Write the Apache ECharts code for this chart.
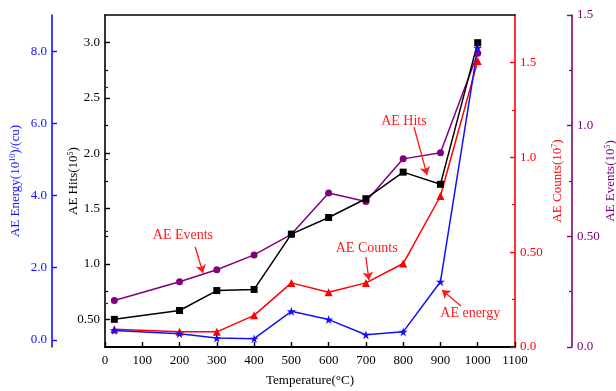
<!DOCTYPE html>
<html>
<head>
<meta charset="utf-8">
<script src="https://cdn.jsdelivr.net/npm/echarts@6/dist/echarts.min.js"></script>
<style>
  html, body { margin: 0; padding: 0; background: #ffffff; }
  #chart { width: 616px; height: 391px; }
</style>
</head>
<body>
<div id="chart"></div>
<script>
// Acoustic emission parameters versus heating temperature
const temperature = [25, 200, 300, 400, 500, 600, 700, 800, 900, 1000];
const aeHits   = [0.50, 0.58, 0.76, 0.77, 1.27, 1.42, 1.59, 1.83, 1.72, 3.00];   // 10^5
const aeEnergy = [0.26, 0.17, 0.05, 0.03, 0.79, 0.56, 0.14, 0.22, 1.61, 8.09];   // 10^10 cu
const aeCounts = [0.093, 0.080, 0.080, 0.167, 0.338, 0.289, 0.338, 0.440, 0.796, 1.507]; // 10^7
const aeEvents = [0.21, 0.295, 0.349, 0.416, 0.509, 0.696, 0.657, 0.850, 0.878, 1.327];  // 10^5

// Tick values for each vertical scale
const hitsMajor   = [0.5, 1.0, 1.5, 2.0, 2.5, 3.0];
const hitsMinor   = [0.75, 1.25, 1.75, 2.25, 2.75];
const energyMajor = [0, 2, 4, 6, 8];
const energyMinor = [1, 3, 5, 7];
const countsMajor = [0, 0.5, 1.0, 1.5];
const countsMinor = [0.25, 0.75, 1.25];
const eventsMajor = [0, 0.5, 1.0, 1.5];
const eventsMinor = [0.25, 0.75, 1.25];

// Callout notes, placed in (temperature, hits) coordinates
const noteLabels    = ['AE Events', 'AE Hits', 'AE Counts', 'AE energy'];
const noteTextAt    = [[209, 1.26], [802, 2.29], [702, 1.145], [980, 0.557]];
const noteArrowFrom = [[242, 1.154], [829, 2.238], [700, 1.063], [955, 0.62]];
const noteArrowTo   = [[263, 0.919], [864, 1.805], [708, 0.855], [904, 0.765]];

const FONT = 'Liberation Serif';
const BLACK = '#000000', BLUE = '#1010ff', RED = '#ff0000', PURPLE = '#800080';
const NOTE_RED = '#ff1a1a';
const STAR = 'path://M50,0 L61,35 L98,35 L68,57 L79,91 L50,70 L21,91 L32,57 L2,35 L39,35 Z';

const pairs = vals => temperature.map((t, i) => [t, vals[i]]);
const fmt1 = v => (v === 0.5 ? '0.50' : v.toFixed(1));

function mainAxis(opts) {
  const c = opts.color;
  return {
    type: 'value',
    position: opts.position,
    offset: opts.offset,
    min: opts.min,
    max: opts.max,
    name: opts.name,
    nameLocation: 'middle',
    nameGap: opts.nameGap,
    nameRotate: 90,
    nameMoveOverlap: false,
    nameTextStyle: {
      color: c, fontFamily: FONT, fontSize: 13,
      rich: { sup: { color: c, fontFamily: FONT, fontSize: 8, verticalAlign: 'top', lineHeight: 10 } }
    },
    axisLine: { show: true, onZero: false, lineStyle: { color: c, width: 1.6 } },
    axisTick: { show: true, inside: true, length: 5, customValues: opts.major, lineStyle: { color: c, width: 1.4 } },
    axisLabel: { show: true, customValues: opts.major, formatter: opts.formatter, color: c, fontFamily: FONT, fontSize: 13, margin: 5 },
    splitLine: { show: false }
  };
}

function minorAxis(opts) {
  return {
    type: 'value',
    position: opts.position,
    offset: opts.offset,
    min: opts.min,
    max: opts.max,
    axisLine: { show: false },
    axisTick: { show: true, inside: true, length: 3, customValues: opts.minor, lineStyle: { color: opts.color, width: 1.2 } },
    axisLabel: { show: false },
    splitLine: { show: false }
  };
}

const scales = [
  { position: 'left',  offset: 0,  min: 0.25, max: 3.25, color: BLACK,  major: hitsMajor,   minor: hitsMinor,   name: 'AE Hits(10{sup|5})',         nameGap: 25, formatter: fmt1 },
  { position: 'left',  offset: 53, min: -0.2, max: 9.0,  color: BLUE,   major: energyMajor, minor: energyMinor, name: 'AE Energy(10{sup|10})/(cu)', nameGap: 30, formatter: v => v.toFixed(1) },
  { position: 'right', offset: 0,  min: 0,    max: 1.75, color: RED,    major: countsMajor, minor: countsMinor, name: 'AE Counts(10{sup|7})',       nameGap: 36, formatter: fmt1 },
  { position: 'right', offset: 57, min: 0,    max: 1.5,  color: PURPLE, major: eventsMajor, minor: eventsMinor, name: 'AE Events(10{sup|5})',       nameGap: 32, formatter: fmt1 }
];

const yAxes = scales.map(mainAxis).concat(scales.map(minorAxis));

function lineSeries(name, vals, yIdx, color, symbol, size) {
  return {
    name, type: 'line', xAxisIndex: 0, yAxisIndex: yIdx,
    data: pairs(vals),
    symbol, symbolSize: size,
    lineStyle: { color, width: 1.5 },
    itemStyle: { color },
    animation: false
  };
}

const hitsSeries = lineSeries('AE Hits', aeHits, 0, BLACK, 'rect', 7);
hitsSeries.markLine = {
  silent: true,
  animation: false,
  symbol: ['none', 'arrow'],
  symbolSize: 8,
  label: { show: false },
  lineStyle: { color: NOTE_RED, width: 1.3, type: 'solid' },
  data: noteArrowFrom.map((p, i) => [{ coord: p }, { coord: noteArrowTo[i] }])
};
hitsSeries.markPoint = {
  silent: true,
  animation: false,
  symbol: 'rect',
  symbolSize: 1,
  itemStyle: { color: 'rgba(0,0,0,0)' },
  label: { show: true, position: 'inside', color: NOTE_RED, fontFamily: FONT, fontSize: 14 },
  data: noteTextAt.map((p, i) => ({ coord: p, value: noteLabels[i], label: { formatter: noteLabels[i] } }))
};

const option = {
  backgroundColor: '#ffffff',
  animation: false,
  grid: { left: 105, right: 101, top: 15, bottom: 44, containLabel: false, outerBoundsMode: 'none' },
  xAxis: [
    {
      type: 'value', position: 'bottom', min: 0, max: 1100, interval: 100,
      name: 'Temperature(°C)', nameLocation: 'middle', nameGap: 27, nameMoveOverlap: false,
      nameTextStyle: { color: BLACK, fontFamily: FONT, fontSize: 13 },
      axisLine: { show: true, onZero: false, lineStyle: { color: BLACK, width: 2 } },
      axisTick: { show: true, inside: true, length: 5, lineStyle: { color: BLACK, width: 1.4 } },
      axisLabel: { color: BLACK, fontFamily: FONT, fontSize: 13, margin: 7, formatter: v => String(v) },
      splitLine: { show: false }
    },
    {
      type: 'value', position: 'top', min: 0, max: 1100,
      axisLine: { show: true, onZero: false, lineStyle: { color: BLACK, width: 1.6 } },
      axisTick: { show: false }, axisLabel: { show: false }, splitLine: { show: false }
    }
  ],
  yAxis: yAxes,
  series: [
    lineSeries('AE Events', aeEvents, 3, PURPLE, 'circle', 7),
    hitsSeries,
    lineSeries('AE Counts', aeCounts, 2, RED, 'triangle', 8),
    lineSeries('AE energy', aeEnergy, 1, BLUE, STAR, 9)
  ]
};

const chart = echarts.init(document.getElementById('chart'), null, { renderer: 'canvas' });
chart.setOption(option);
</script>
</body>
</html>
